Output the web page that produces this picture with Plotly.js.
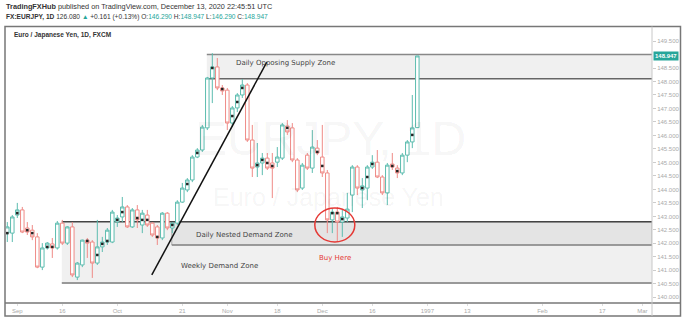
<!DOCTYPE html>
<html><head><meta charset="utf-8">
<script src="https://cdn.plot.ly/plotly-3.0.1.min.js"></script>
<style>html,body{margin:0;padding:0;background:#fff;}#chart{width:687px;height:320px;}</style>
</head><body><div id="chart"></div>
<script>
// bar positions (trading-day index, Sep 2 1996 ~ 0)
const barPos = [-1,0,1,2,3,4,5,6,7,8,9,10,11,12,13,14,15,16,17,18,19,20,21,22,23,24,25,26,27,28,29,30,31,32,33,34,35,36,37,38,39,40,41,42,43,44,45,46,47,48,49,50,51,52,53,54,55,56,57,58,59,60,61,62,63,64,65,66,67,68,69,70,71,72,73,74,75,76,77,78,79,80,81];
const openP = [142.38,142.38,143.05,143.24,142.57,142.49,142.24,141.12,141.83,141.98,141.83,142.75,142.01,142.61,140.75,141.20,142.12,142.05,141.27,141.87,142.05,142.05,142.79,142.98,143.35,142.61,143.24,142.68,143.05,142.75,142.61,142.20,143.12,142.57,142.75,143.53,143.98,144.35,145.20,145.46,146.28,148.13,148.54,147.76,147.68,146.46,147.02,147.50,147.87,145.83,144.83,144.98,145.16,144.98,145.01,145.16,146.35,146.28,145.09,144.05,145.27,144.79,145.53,145.20,144.61,142.87,143.16,142.79,142.94,143.79,144.83,143.98,144.05,144.83,145.01,144.46,143.87,144.94,144.79,144.61,145.27,145.76,146.29];
const highP = [142.79,143.05,143.50,143.35,142.79,142.68,142.38,142.01,142.05,142.20,142.83,142.87,142.64,142.79,141.31,142.14,142.20,142.12,142.87,142.24,142.57,143.24,143.05,143.72,143.42,143.31,143.42,143.24,143.24,142.79,142.68,143.16,143.16,142.79,143.60,144.24,144.42,145.27,145.53,146.39,148.17,149.05,148.87,147.87,147.76,147.09,147.57,148.09,147.94,146.39,145.72,145.35,145.35,145.35,145.57,146.46,146.57,146.46,145.16,144.98,145.35,146.20,145.83,146.39,144.72,143.31,143.35,143.24,143.87,144.90,144.90,144.42,144.90,145.27,145.46,144.53,144.98,145.35,144.90,145.35,145.83,147.50,148.947];
const lowP = [142.05,142.05,142.94,142.38,142.31,142.12,141.08,141.01,141.77,141.46,141.77,141.94,141.94,140.75,140.64,141.12,141.46,140.72,141.20,141.68,141.94,142.01,142.61,142.79,142.57,142.57,142.57,142.38,142.61,142.24,141.94,142.12,142.49,142.38,142.68,143.50,143.90,144.27,145.16,145.39,146.20,147.20,147.68,147.50,146.20,146.31,146.87,147.39,145.76,144.46,144.46,144.53,144.72,143.68,144.83,145.09,146.02,145.01,143.90,143.98,144.72,144.61,145.27,144.46,142.38,142.38,142.05,142.24,142.79,143.16,143.79,143.31,143.60,144.76,144.42,143.79,143.42,144.72,144.42,144.53,145.01,145.53,146.29];
const closeP = [142.61,142.98,143.24,142.42,142.42,142.24,141.12,141.83,142.01,141.83,142.75,142.01,142.61,140.83,141.27,142.12,142.01,141.27,141.87,142.05,142.49,143.16,142.94,143.35,142.61,143.24,142.87,143.12,142.68,142.31,142.20,143.12,142.57,142.75,143.53,144.05,144.35,145.20,145.46,146.31,148.13,148.54,147.76,147.65,146.46,147.02,147.50,147.87,145.83,144.79,144.98,145.16,144.79,144.79,145.20,146.39,146.13,145.09,143.98,144.90,144.79,145.57,145.35,144.61,142.87,143.16,142.79,142.98,143.27,144.83,144.05,144.13,144.83,145.01,144.46,143.87,144.90,144.83,144.61,145.27,145.76,146.28,148.947];

// small black marks on candles
const dotPos = [-1,1,3,4,7,8,15,17,18,19,21,22,25,26,27,29,32,35,37,40,42,44,45,46,49,50,51,52,55,61,62,64,65,66,70,71,72,76,77,80];
const dotP = [142.38,143.12,142.49,142.38,141.87,141.87,142.09,141.57,141.98,142.09,142.87,143.16,142.94,142.87,142.87,142.24,142.68,144.20,145.35,148.50,147.72,146.72,147.24,147.76,144.90,145.09,144.98,144.87,146.28,145.39,144.87,143.12,143.12,142.90,144.05,144.46,144.94,144.87,144.68,146.02];

// time axis labels
const timeTickPos = [1,10,21,34,43,53,62,72,83,91,106,118,126];
const timeTickText = ['Sep','16','Oct','21','Nov','18','Dec','16','1997','13','Feb','17','Mar'];

// price axis labels (149.000 sits under the last-price badge)
const priceTicks = [140,140.5,141,141.5,142,142.5,143,143.5,144,144.5,145,145.5,146,146.5,147,147.5,148,148.5,149.5];
const priceTickText = ['140.000','140.500','141.000','141.500','142.000','142.500','143.000','143.500','144.000','144.500','145.000','145.500','146.000','146.500','147.000','147.500','148.000','148.500','149.500'];

// zones
const zoneNames = ['Daily Opposing Supply Zone','Daily Nested Demand Zone','Weekly Demand Zone'];
const zoneStart = [38.9, 31.9, 9.9];
const zoneTop = [149.00, 142.80, 142.80];
const zoneBottom = [148.10, 141.94, 140.53];
const zoneLabelPos = [54.6, 46.4, 41.4];
const zoneLabelP = [148.67, 142.31, 141.16];

// trend line
const trendPos = [27.9, 50.9];
const trendP = [140.83, 148.72];

// buy circle
const buyPos = [60.5, 68.5];
const buyP = [142.05, 143.31];
const buyLabelPos = 64.6, buyLabelP = 141.47;

const lastPrice = 148.947;
const xEnd = 127.94;

const TEAL = '#5cbcaf', RED = '#ef8a86';
const traces = [
  {type:'candlestick', x:barPos, open:openP, high:highP, low:lowP, close:closeP,
   increasing:{line:{color:TEAL,width:1}, fillcolor:'#ffffff'},
   decreasing:{line:{color:RED,width:1}, fillcolor:'#ffffff'},
   whiskerwidth:0, hoverinfo:'skip'},
  {type:'scatter', mode:'markers', x:dotPos, y:dotP, marker:{symbol:'square', size:2.5, color:'#222'}, hoverinfo:'skip'},
  {type:'scatter', mode:'lines', x:trendPos, y:trendP, line:{color:'#111', width:1.5}, hoverinfo:'skip'}
];

const fs = 'Liberation Sans, Arial, sans-serif';
const dfont = 'DejaVu Sans, Verdana, sans-serif';
const px = (p)=> (p-6)/646, py = (p)=> (303-p)/276;

const shapes = [
  {type:'rect', layer:'below', xref:'x', yref:'y', x0:zoneStart[2], x1:xEnd, y0:zoneBottom[2], y1:zoneTop[2], fillcolor:'#f0f0f0', line:{width:0}},
  {type:'rect', layer:'below', xref:'x', yref:'y', x0:zoneStart[1], x1:xEnd, y0:zoneBottom[1], y1:zoneTop[1], fillcolor:'#e4e4e4', line:{color:'#aaa', width:1}},
  {type:'rect', layer:'below', xref:'x', yref:'y', x0:zoneStart[0], x1:xEnd, y0:zoneBottom[0], y1:zoneTop[0], fillcolor:'#f0f0f0', line:{width:0}},
  {type:'line', layer:'below', xref:'x', yref:'y', x0:zoneStart[0], x1:xEnd, y0:zoneTop[0], y1:zoneTop[0], line:{color:'#888', width:1.5}},
  {type:'line', layer:'below', xref:'x', yref:'y', x0:zoneStart[0], x1:xEnd, y0:zoneBottom[0], y1:zoneBottom[0], line:{color:'#666', width:1.5}},
  {type:'line', layer:'below', xref:'x', yref:'y', x0:zoneStart[2], x1:xEnd, y0:zoneTop[2], y1:zoneTop[2], line:{color:'#444', width:1.5}},
  {type:'line', layer:'below', xref:'x', yref:'y', x0:zoneStart[2], x1:xEnd, y0:zoneBottom[2], y1:zoneBottom[2], line:{color:'#999', width:2}},
  {type:'line', layer:'below', xref:'x', yref:'y', x0:zoneStart[1], x1:xEnd, y0:zoneBottom[1], y1:zoneBottom[1], line:{color:'#888', width:1.5}},
  {type:'circle', xref:'x', yref:'y', x0:buyPos[0], x1:buyPos[1], y0:buyP[0], y1:buyP[1], line:{color:'#e53935', width:1.5}},
  {type:'rect', xref:'paper', yref:'paper', x0:px(5), x1:px(680.5), y0:py(316), y1:py(26.5), line:{color:'#777', width:1.5}},
  {type:'line', xref:'paper', yref:'paper', x0:px(5), x1:px(680.5), y0:0, y1:0, line:{color:'#777', width:1.5}},
  {type:'line', xref:'paper', yref:'paper', x0:1, x1:1, y0:py(316), y1:py(26.5), line:{color:'#c8c8c8', width:1}}
];

const annotations = [
  {xref:'x', yref:'y', x:63.7, y:145.87, text:'EURJPY, 1D', showarrow:false, font:{family:fs, size:48, color:'rgba(0,0,0,0.05)'}},
  {xref:'x', yref:'y', x:63.2, y:143.72, text:'Euro / Japanese Yen', showarrow:false, font:{family:fs, size:25, color:'rgba(0,0,0,0.05)'}},
  {xref:'x', yref:'y', x:zoneLabelPos[0], y:zoneLabelP[0], text:zoneNames[0], showarrow:false, font:{family:dfont, size:7, color:'#444'}},
  {xref:'x', yref:'y', x:zoneLabelPos[1], y:zoneLabelP[1], text:zoneNames[1], showarrow:false, font:{family:dfont, size:7, color:'#444'}},
  {xref:'x', yref:'y', x:zoneLabelPos[2], y:zoneLabelP[2], text:zoneNames[2], showarrow:false, font:{family:dfont, size:7, color:'#444'}},
  {xref:'x', yref:'y', x:buyLabelPos, y:buyLabelP, text:'Buy Here', showarrow:false, font:{family:dfont, size:7, color:'#e53935'}},
  {xref:'paper', yref:'y', x:1, y:lastPrice, xanchor:'left', xshift:1, text:'<b>148.947</b>', showarrow:false, bgcolor:'#26a69a', borderpad:1, font:{family:fs, size:6, color:'#fff'}},
  {xref:'paper', yref:'paper', x:px(4), y:py(6.7), xanchor:'left', yanchor:'middle', showarrow:false,
   text:'<b>TradingFXHub</b> published on TradingView.com, December 13, 2020 22:45:51 UTC', font:{family:fs, size:7.3, color:'#333'}},
  {xref:'paper', yref:'paper', x:px(4), y:py(16.7), xanchor:'left', yanchor:'middle', showarrow:false,
   text:'<b>FX:EURJPY, 1D</b> 126.080 <span style="color:#26a69a">▲</span> +0.161 (+0.13%) O:<span style="color:#26a69a">146.290</span> H:<span style="color:#26a69a">148.947</span> L:<span style="color:#26a69a">146.290</span> C:<span style="color:#26a69a">148.947</span>',
   font:{family:fs, size:6.6, color:'#333'}},
  {xref:'paper', yref:'paper', x:px(12), y:py(35), xanchor:'left', yanchor:'middle', showarrow:false,
   text:'<b>Euro / Japanese Yen, 1D, FXCM</b>', font:{family:fs, size:6.5, color:'#333'}}
];

const layout = {
  width:687, height:320,
  margin:{l:6, r:35, t:27, b:17, pad:0},
  paper_bgcolor:'#fff', plot_bgcolor:'#fff',
  showlegend:false, boxgap:0.3, boxgroupgap:0,
  xaxis:{range:[-1.26, xEnd], showgrid:false, zeroline:false, rangeslider:{visible:false},
    tickmode:'array', tickvals:timeTickPos, ticktext:timeTickText,
    tickfont:{family:fs, size:6, color:'#aaa'}, ticks:'outside', ticklen:2, tickcolor:'#ddd',
    showline:false, fixedrange:true},
  yaxis:{side:'right', range:[139.79, 150.02], showgrid:false, zeroline:false,
    tickmode:'array', tickvals:priceTicks, ticktext:priceTickText,
    tickfont:{family:fs, size:6, color:'#aaa'}, ticks:'outside', ticklen:3, tickcolor:'#ccc',
    showline:false, fixedrange:true},
  shapes:shapes, annotations:annotations
};
Plotly.newPlot('chart', traces, layout, {staticPlot:true, displayModeBar:false});
</script></body></html>
